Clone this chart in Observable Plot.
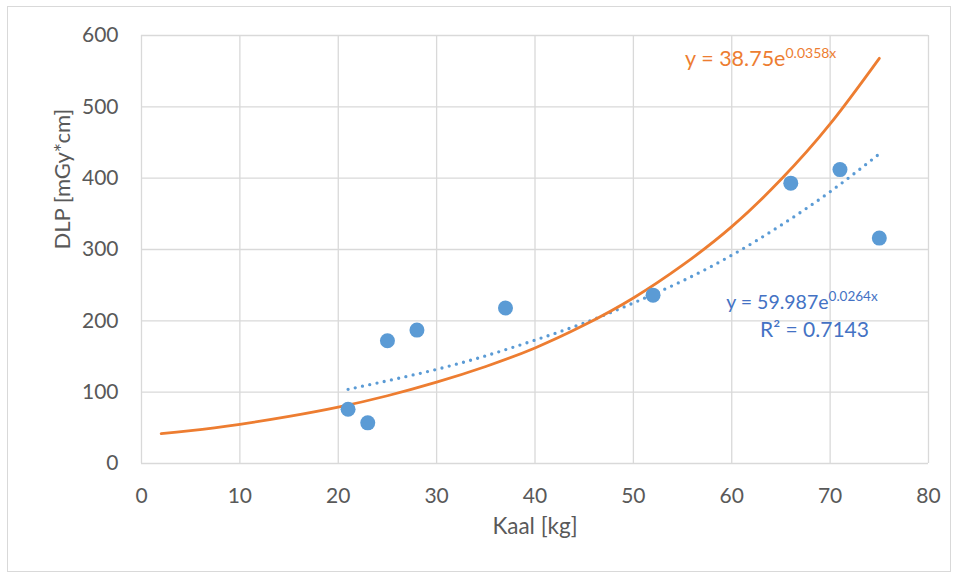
<!DOCTYPE html>
<html>
<head>
<meta charset="utf-8">
<script src="https://cdn.jsdelivr.net/npm/d3@7"></script>
<script src="https://cdn.jsdelivr.net/npm/@observablehq/plot@0.6"></script>
<style>
  html, body { margin: 0; padding: 0; background: #fff; }
  #wrap { position: relative; width: 958px; height: 579px; }
  #border { position: absolute; left: 7px; top: 6px; width: 944px; height: 566px; border: 1px solid #d9d9d9; box-sizing: border-box; }
  #chart { position: absolute; left: 0; top: 0; }
</style>
</head>
<body>
<div id="wrap"><div id="border"></div><div id="chart"></div></div>
<script>
// Scatter data: weight (Kaal, kg) vs DLP (mGy*cm)
const kaal = [21, 23, 25, 28, 37, 52, 66, 71, 75];
const dlp  = [76, 57, 172, 187, 218, 236, 393, 412, 316];

// Exponential trendline (orange)
const trendAX = [2, 5, 10, 15, 20, 25, 30, 35, 40, 45, 50, 55, 60, 65, 70, 75];
const trendAY = [42, 46, 55, 66, 79, 95, 114, 136, 162, 194, 232, 278, 332, 398, 476, 568];

// Exponential trendline (blue dotted)
const trendBX = [21, 25, 30, 35, 40, 45, 50, 55, 60, 65, 70, 75];
const trendBY = [104, 116, 132, 151, 173, 197, 225, 256, 292, 334, 381, 434];

// Axis ticks
const xTicks = [0, 10, 20, 30, 40, 50, 60, 70, 80];
const yTicks = [0, 100, 200, 300, 400, 500, 600];

// Labels
const xTitle = "Kaal [kg]";
const yTitle = "DLP [mGy*cm]";
const eqA = ["y = 38.75e", "0.0358x"];
const eqB = ["y = 59.987e", "0.0264x"];
const r2B = "R² = 0.7143";

const points = kaal.map((k, i) => ({x: k, y: dlp[i]}));
const lineA = trendAX.map((k, i) => ({x: k, y: trendAY[i]}));
const lineB = trendBX.map((k, i) => ({x: k, y: trendBY[i]}));

const FONT = "Lato, 'Open Sans', sans-serif";
const blue = "#5B9BD5";
const orange = "#ED7D31";
const eqBlue = "#4472C4";

const chart = Plot.plot({
  width: 958,
  height: 579,
  marginLeft: 141,
  marginRight: 30,
  marginTop: 35,
  marginBottom: 116,
  style: {fontFamily: FONT, background: "transparent", overflow: "visible"},
  x: {domain: [0, 80]},
  y: {domain: [0, 600]},
  marks: [
    Plot.ruleX(xTicks, {stroke: "#d9d9d9", strokeWidth: 1.3}),
    Plot.ruleY(yTicks, {stroke: "#d9d9d9", strokeWidth: 1.3}),
    Plot.axisX({ticks: xTicks, tickSize: 0, tickPadding: 25, fontSize: 21, color: "#595959", label: null}),
    Plot.axisY({ticks: yTicks, tickSize: 0, tickPadding: 23, fontSize: 21, color: "#595959", label: null}),
    Plot.text([xTitle], {frameAnchor: "bottom", dy: 70, fontSize: 22.5, fill: "#595959", text: d => d}),
    Plot.text([yTitle], {frameAnchor: "left", dx: -79, rotate: -90, fontSize: 22, fill: "#595959", text: d => d}),
    Plot.line(lineB, {x: "x", y: "y", curve: "natural", stroke: blue, strokeWidth: 3.3, strokeDasharray: "0 7.4", strokeLinecap: "round"}),
    Plot.line(lineA, {x: "x", y: "y", curve: "natural", stroke: orange, strokeWidth: 2.8}),
    Plot.dot(points, {x: "x", y: "y", r: 7.5, fill: blue, stroke: "none"}),
    Plot.text([eqA[0]], {x: () => 65.46, y: () => 567, text: d => d, textAnchor: "end", fontSize: 21.5, fill: orange}),
    Plot.text([eqA[1]], {x: () => 65.46, y: () => 575, text: d => d, textAnchor: "start", fontSize: 14, fill: orange}),
    Plot.text([eqB[0]], {x: () => 69.84, y: () => 225, text: d => d, textAnchor: "end", fontSize: 19.5, fill: eqBlue}),
    Plot.text([eqB[1]], {x: () => 69.84, y: () => 234, text: d => d, textAnchor: "start", fontSize: 13.5, fill: eqBlue}),
    Plot.text([r2B], {x: () => 68.41, y: () => 187, text: d => d, textAnchor: "middle", fontSize: 21, fill: eqBlue})
  ]
});
document.getElementById("chart").appendChild(chart);
</script>
</body>
</html>
